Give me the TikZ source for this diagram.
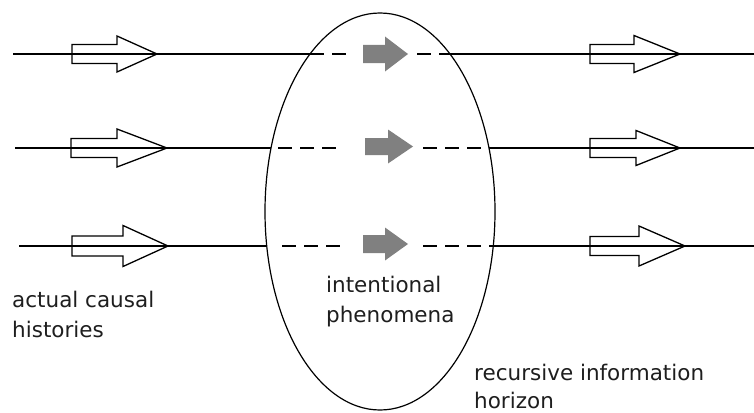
\documentclass[tikz,border=0pt]{standalone}
\usepackage{fontspec}
\setmainfont{DejaVu Sans}
\usetikzlibrary{shapes.geometric}
\newcommand\hollowarrow[7]{% x0 x1 x2 y bodyhalf headhalf style
  \draw[#7] (#1,#4-#5) -- (#2,#4-#5) -- (#2,#4-#6) -- (#3,#4) -- (#2,#4+#6) -- (#2,#4+#5) -- (#1,#4+#5) -- cycle;}
\begin{document}
\begin{tikzpicture}[x=1pt,y=-1pt,
  causal/.style={line width=1.35pt, draw=black},
  inner/.style={line width=1.35pt, draw=black, dash pattern=on 14pt off 8pt},
  harrow/.style={line width=1.3pt, draw=black, line join=miter},
  garrow/.style={fill=gray50, draw=none},
  lbl/.style={font=\fontsize{21.5}{30}\selectfont, text=txt, inner sep=0pt, align=left, anchor=base west}]
\definecolor{gray50}{HTML}{808080}
\definecolor{txt}{HTML}{1E1E1E}
\useasboundingbox (0,0) rectangle (754,412);
% horizon ellipse
\node[ellipse, draw=black, line width=1.2pt, minimum width=230pt, minimum height=397pt, inner sep=0pt] (horizon) at (380,211.5) {};
% coordinates
\coordinate (l1s) at (13,54);  \coordinate (l1a) at (310,54); \coordinate (l1b) at (346,54);
\coordinate (l1c) at (417,54); \coordinate (l1d) at (450,54); \coordinate (l1e) at (754,54);
\coordinate (l2s) at (15,148); \coordinate (l2a) at (271,148); \coordinate (l2f) at (278,148); \coordinate (l2b) at (336,148);
\coordinate (l2c) at (423,148); \coordinate (l2d) at (489,148); \coordinate (l2e) at (754,148);
\coordinate (l3s) at (19,246); \coordinate (l3a) at (266,246); \coordinate (l3f) at (282,246); \coordinate (l3b) at (340,246);
\coordinate (l3c) at (423,246); \coordinate (l3d) at (493,246); \coordinate (l3e) at (754,246);
% causal lines
\draw[causal] (l1s) -- (l1a); \draw[causal] (l1d) -- (l1e);
\draw[causal] (l2s) -- (l2a); \draw[causal] (l2d) -- (l2e);
\draw[causal] (l3s) -- (l3a); \draw[causal] (l3d) -- (l3e);
% dashed parts inside horizon
\draw[inner] (l1a) -- (l1b); \draw[inner] (l1c) -- (l1d);
\draw[inner] (l2f) -- (l2b); \draw[inner] (l2c) -- (l2d);
\draw[inner] (l3f) -- (l3b); \draw[inner] (l3c) -- (l3d);
% hollow arrows left
\hollowarrow{72}{117}{157}{54}{9.5}{18}{harrow}
\hollowarrow{71}{117}{167}{148}{9.5}{19}{harrow}
\hollowarrow{72}{123}{168}{246}{10}{20.5}{harrow}
% hollow arrows right
\hollowarrow{590}{634}{680}{54}{9.5}{18.5}{harrow}
\hollowarrow{590}{636}{680}{148}{9.5}{17.5}{harrow}
\hollowarrow{590}{639}{685}{246}{9.5}{20}{harrow}
% grey arrows
\hollowarrow{363}{385}{408}{54}{9}{17.5}{garrow}
\hollowarrow{365}{388}{413}{146.5}{8.5}{17}{garrow}
\hollowarrow{363}{385}{408}{244}{9}{16.5}{garrow}
% labels
\node[lbl] (actual) at (12,337) {actual causal\\histories};
\node[lbl] (intent) at (326,322) {intentional\\phenomena};
\node[lbl, font=\fontsize{21.5}{28}\selectfont] (recur) at (474,408) {recursive information\\horizon};
\end{tikzpicture}
\end{document}
